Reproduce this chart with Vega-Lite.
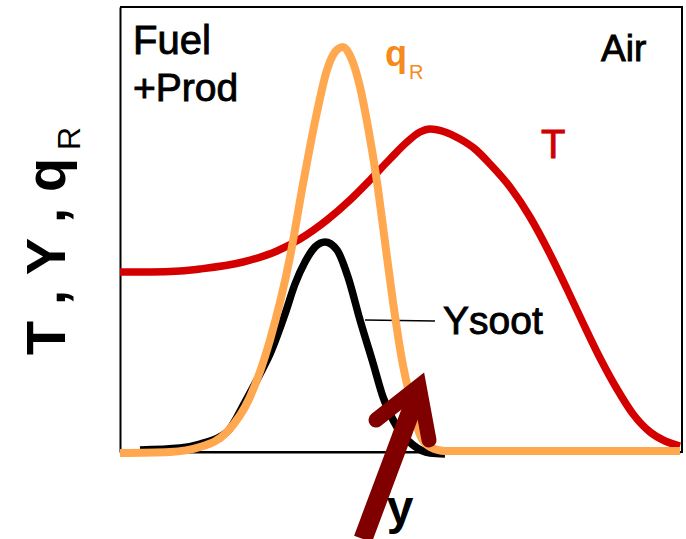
{"$schema":"https://vega.github.io/schema/vega-lite/v6.json","width":560,"height":445,"autosize":"none","padding":{"left":120,"top":7,"right":6,"bottom":87},"background":"white","view":{"stroke":null},
"config":{"axis":{"ticks":false,"labels":false,"grid":false,"title":null,"domainColor":"#000","domainWidth":2}},
"datasets":{
"T":[{"x":0,"v":180},{"x":30,"v":180},{"x":60,"v":181},{"x":80,"v":183},{"x":123,"v":190},{"x":157,"v":201},{"x":180,"v":213},{"x":207,"v":232},{"x":230,"v":252},{"x":250,"v":272},{"x":270,"v":293},{"x":287,"v":310},{"x":300,"v":320},{"x":310,"v":323},{"x":325,"v":320},{"x":340,"v":313},{"x":355,"v":303},{"x":370,"v":288},{"x":390,"v":265},{"x":410,"v":235},{"x":430,"v":198},{"x":447,"v":163},{"x":463,"v":129},{"x":480,"v":94},{"x":497,"v":63},{"x":513,"v":38},{"x":530,"v":20},{"x":545,"v":11},{"x":560,"v":6}],
"S":[{"x":20,"v":2},{"x":60,"v":4},{"x":80,"v":8},{"x":107,"v":20},{"x":125,"v":50},{"x":140,"v":78},{"x":150,"v":98},{"x":165,"v":138},{"x":175,"v":168},{"x":185,"v":190},{"x":195,"v":205},{"x":205,"v":210},{"x":217,"v":202},{"x":228,"v":175},{"x":240,"v":132},{"x":253,"v":89},{"x":263,"v":55},{"x":277,"v":25},{"x":293,"v":7},{"x":310,"v":-1},{"x":325,"v":-2}],
"Q":[{"x":0,"v":-1},{"x":50,"v":0},{"x":80,"v":5},{"x":107,"v":20},{"x":130,"v":55},{"x":150,"v":112},{"x":170,"v":195},{"x":183,"v":268},{"x":197,"v":340},{"x":207,"v":382},{"x":215,"v":400},{"x":223,"v":405},{"x":232,"v":392},{"x":240,"v":365},{"x":248,"v":325},{"x":257,"v":270},{"x":265,"v":210},{"x":273,"v":150},{"x":282,"v":92},{"x":290,"v":55},{"x":300,"v":17},{"x":310,"v":5},{"x":325,"v":1},{"x":560,"v":1}],
"L":[{"x":245,"v":132},{"x":315,"v":131}],
"A1":[{"x":243,"v":-87},{"x":298,"v":60}],
"A2":[{"x":256,"v":32},{"x":299,"v":66},{"x":309,"v":12}],
"frame":[{"i":1,"x":0,"v":445},{"i":2,"x":562,"v":445},{"i":3,"x":562,"v":0},{"i":4,"x":0,"v":0}],
"labels":[{"t":"Fuel","x":13,"v":410,"s":40,"c":"#000"},{"t":"+Prod","x":13,"v":363,"s":39,"c":"#000"},{"t":"Air","x":481,"v":402,"s":37,"c":"#000"},{"t":"T","x":421,"v":306,"s":40,"c":"#d00000"},{"t":"Ysoot","x":323,"v":130,"s":39,"c":"#000"}]},
"layer":[
{"data":{"name":"T"},"mark":{"type":"line","color":"#d40000","strokeWidth":7.5,"interpolate":"monotone"},"encoding":{"x":{"field":"x","type":"quantitative","scale":{"domain":[0,560],"nice":false}},"y":{"field":"v","type":"quantitative","scale":{"domain":[0,445],"nice":false}}}},
{"data":{"name":"frame"},"mark":{"type":"line","color":"#000","strokeWidth":2},"encoding":{"x":{"field":"x","type":"quantitative"},"y":{"field":"v","type":"quantitative"},"order":{"field":"i","type":"quantitative"}}},
{"data":{"name":"S"},"mark":{"type":"line","color":"#000","strokeWidth":7.5,"interpolate":"monotone"},"encoding":{"x":{"field":"x","type":"quantitative"},"y":{"field":"v","type":"quantitative"}}},
{"data":{"name":"L"},"mark":{"type":"line","color":"#000","strokeWidth":1.5},"encoding":{"x":{"field":"x","type":"quantitative"},"y":{"field":"v","type":"quantitative"}}},
{"data":{"name":"Q"},"mark":{"type":"line","color":"#ffa850","strokeWidth":8,"interpolate":"monotone"},"encoding":{"x":{"field":"x","type":"quantitative"},"y":{"field":"v","type":"quantitative"}}},
{"data":{"name":"A1"},"mark":{"type":"line","color":"#800000","strokeWidth":19,"strokeCap":"butt"},"encoding":{"x":{"field":"x","type":"quantitative"},"y":{"field":"v","type":"quantitative"}}},
{"data":{"name":"A2"},"mark":{"type":"line","color":"#800000","strokeWidth":15,"strokeCap":"round","strokeJoin":"miter"},"encoding":{"x":{"field":"x","type":"quantitative"},"y":{"field":"v","type":"quantitative"}}},
{"data":{"name":"labels"},"mark":{"type":"text","align":"left","baseline":"middle","font":"Liberation Sans","strokeWidth":0.9},"encoding":{"x":{"field":"x","type":"quantitative"},"y":{"field":"v","type":"quantitative"},"text":{"field":"t"},"size":{"field":"s","type":"quantitative","scale":null},"color":{"field":"c","type":"nominal","scale":null},"stroke":{"field":"c","type":"nominal","scale":null}}},
{"data":{"values":[{"t":"q","x":265,"v":397}]},"mark":{"type":"text","align":"left","baseline":"middle","font":"Liberation Sans","fontWeight":"bold","fontSize":36,"color":"#f58a1f"},"encoding":{"x":{"field":"x","type":"quantitative"},"y":{"field":"v","type":"quantitative"},"text":{"field":"t"}}},
{"data":{"values":[{"t":"R","x":289,"v":379}]},"mark":{"type":"text","align":"left","baseline":"middle","font":"Liberation Sans","fontSize":20,"color":"#f58a1f"},"encoding":{"x":{"field":"x","type":"quantitative"},"y":{"field":"v","type":"quantitative"},"text":{"field":"t"}}},
{"data":{"values":[{"t":"y","x":280,"v":-58}]},"mark":{"type":"text","align":"center","baseline":"middle","font":"Liberation Sans","fontWeight":"bold","fontSize":48,"color":"#000"},"encoding":{"x":{"field":"x","type":"quantitative"},"y":{"field":"v","type":"quantitative"},"text":{"field":"t"}}},
{"data":{"values":[{"t":"T , Y , q","x":-55,"v":97}]},"mark":{"type":"text","align":"left","baseline":"alphabetic","angle":270,"font":"Liberation Sans","fontWeight":"bold","fontSize":56,"color":"#000"},"encoding":{"x":{"field":"x","type":"quantitative"},"y":{"field":"v","type":"quantitative"},"text":{"field":"t"}}},
{"data":{"values":[{"t":"R","x":-40,"v":302}]},"mark":{"type":"text","align":"left","baseline":"alphabetic","angle":270,"font":"Liberation Sans","fontSize":32,"color":"#000"},"encoding":{"x":{"field":"x","type":"quantitative"},"y":{"field":"v","type":"quantitative"},"text":{"field":"t"}}}
]}
